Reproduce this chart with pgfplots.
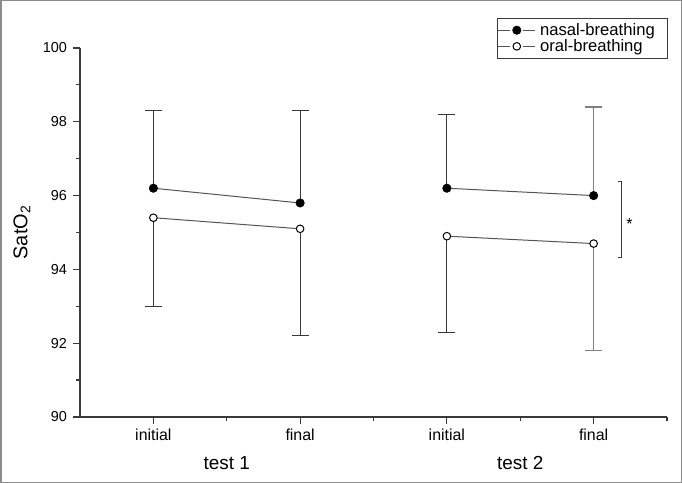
\documentclass[border=0pt]{standalone}
\usepackage{pgfplots}
\usepackage{pgfplotstable}
\pgfplotsset{compat=1.18}
\usepackage{fontspec}
\setmainfont{Liberation Sans}

\definecolor{axiscol}{HTML}{3A3A3A}
\definecolor{linecol}{HTML}{555555}
\definecolor{errcol}{HTML}{383838}
\definecolor{errlight}{HTML}{808080}
\definecolor{framecol}{HTML}{8C8C8C}

% x: 1 = test 1 initial, 2 = test 1 final, 3 = test 2 initial, 4 = test 2 final
\pgfplotstableread{
x y err
1 96.2 2.1
2 95.8 2.5
3 96.2 2.0
4 96.0 2.4
}\nasal
\pgfplotstableread{
x y err
1 95.4 2.4
2 95.1 2.9
3 94.9 2.6
4 94.7 2.9
}\oral

\begin{document}
\begin{tikzpicture}
\begin{axis}[
    at={(80bp,66bp)}, anchor=south west,
    scale only axis,
    width=587bp, height=369bp,
    xmin=0.5, xmax=4.5,
    ymin=90, ymax=100,
    clip=false,
    axis x line=bottom, axis y line=left,
    axis line style={-, axiscol, line width=1.3bp},
    tick align=outside,
    major tick length=7.5bp, minor tick length=4bp,
    every tick/.style={axiscol, line width=1.2bp},
    xtick={1,2,3,4},
    xticklabels={initial,final,initial,final},
    minor xtick={1.5,2.5,3.5,4.5},
    ytick={90,92,...,100},
    minor ytick={91,93,...,99},
    /pgf/number format/assume math mode=true,
    xticklabel style={font=\fontsize{16}{18}\selectfont, yshift=-1bp},
    yticklabel style={font=\fontsize{14.5}{17}\selectfont, xshift=-2bp},
    ylabel={SatO\textsubscript{2}},
    ylabel style={font=\fontsize{20}{22}\selectfont, at={(axis description cs:-0.099,0.5)}, anchor=center},
    legend cell align=left,
    legend image code/.code={
        \draw[#1, mark=none] (0bp,0bp) -- (12bp,0bp) (25bp,0bp) -- (37bp,0bp);
        \draw[#1, only marks] plot coordinates {(18.5bp,0bp)};
    },
    legend style={at={(axis description cs:1.0017,1.082)}, anchor=north east,
        draw=axiscol, line width=0.8bp, font=\fontsize{16.7}{18}\selectfont,
        row sep=0pt, inner xsep=0.5bp, inner ysep=4bp,
        nodes={inner sep=1.3bp}},
]

% error bars: nasal upward, oral downward
\addplot[only marks, mark=none, forget plot, restrict x to domain=0:3.5,
    error bars/.cd, y dir=plus, y explicit,
    error bar style={errcol, line width=1.1bp},
    error mark options={rotate=90, errcol, line width=1.1bp, mark size=8.5bp}]
    table[x=x, y=y, y error=err] {\nasal};
\addplot[only marks, mark=none, forget plot, restrict x to domain=3.5:4.5,
    error bars/.cd, y dir=plus, y explicit,
    error bar style={errlight, line width=1.1bp},
    error mark options={rotate=90, errlight, line width=1.1bp, mark size=8.5bp}]
    table[x=x, y=y, y error=err] {\nasal};
\addplot[only marks, mark=none, forget plot, restrict x to domain=0:3.5,
    error bars/.cd, y dir=minus, y explicit,
    error bar style={errcol, line width=1.1bp},
    error mark options={rotate=90, errcol, line width=1.1bp, mark size=8.5bp}]
    table[x=x, y=y, y error=err] {\oral};
\addplot[only marks, mark=none, forget plot, restrict x to domain=3.5:4.5,
    error bars/.cd, y dir=minus, y explicit,
    error bar style={errlight, line width=1.1bp},
    error mark options={rotate=90, errlight, line width=1.1bp, mark size=8.5bp}]
    table[x=x, y=y, y error=err] {\oral};

% means, one segment per test
\addplot[linecol, line width=1bp, mark=*, mark size=4.2bp,
    mark options={black, fill=black, line width=0.6bp}]
    table[x=x, y=y, restrict x to domain=0:2.5] {\nasal};
\addlegendentry{\kern3bp nasal-breathing\kern11bp}
\addplot[linecol, line width=1bp, mark=*, mark size=3.8bp,
    mark options={black, fill=white, line width=1bp}]
    table[x=x, y=y, restrict x to domain=0:2.5] {\oral};
\addlegendentry{\kern3bp oral-breathing}
\addplot[linecol, line width=1bp, mark=*, mark size=4.2bp, forget plot,
    mark options={black, fill=black, line width=0.6bp}]
    table[x=x, y=y, restrict x to domain=2.5:4.5] {\nasal};
\addplot[linecol, line width=1bp, mark=*, mark size=3.8bp, forget plot,
    mark options={black, fill=white, line width=1bp}]
    table[x=x, y=y, restrict x to domain=2.5:4.5] {\oral};

% significance bracket for test 2 final
\draw[errcol, line width=1bp] ([xshift=-3bp]axis cs:4.187,96.38) -- (axis cs:4.187,96.38)
    -- (axis cs:4.187,94.32) -- ([xshift=-3bp]axis cs:4.187,94.32);
\node[font=\fontsize{16}{18}\selectfont, inner sep=0pt] at ([yshift=-3bp]axis cs:4.245,95.32) {*};

% group labels
\node[font=\fontsize{19}{21}\selectfont, inner sep=0pt] at ([yshift=-46bp]axis cs:1.5,90) {test 1};
\node[font=\fontsize{19}{21}\selectfont, inner sep=0pt] at ([yshift=-46bp]axis cs:3.5,90) {test 2};
\end{axis}
\draw[framecol, line width=1.5bp] (0.75bp,0.75bp) rectangle (681.25bp,482.25bp);
\end{tikzpicture}
\end{document}
